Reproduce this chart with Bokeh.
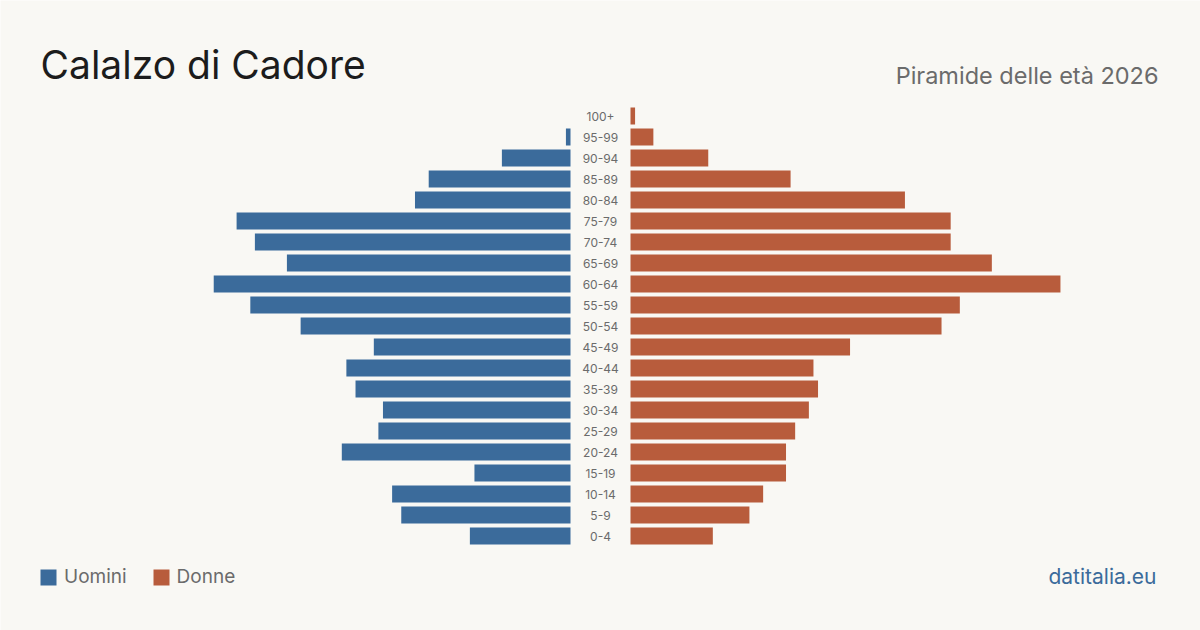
from bokeh.plotting import figure
from bokeh.models import Range1d, Label, ColumnDataSource, Legend, LegendItem
from bokeh.core.properties import value
from bokeh.embed import file_html
from bokeh.resources import INLINE

# ---- data (bottom to top) ----
ages = ["0-4", "5-9", "10-14", "15-19", "20-24", "25-29", "30-34", "35-39",
        "40-44", "45-49", "50-54", "55-59", "60-64", "65-69", "70-74", "75-79",
        "80-84", "85-89", "90-94", "95-99", "100+"]
men = [22, 37, 39, 21, 50, 42, 41, 47, 49, 43, 59, 70, 78, 62, 69, 73, 34, 31, 15, 1, 0]
women = [18, 26, 29, 34, 34, 36, 39, 41, 40, 48, 68, 72, 94, 79, 70, 70, 60, 35, 17, 5, 1]

title = "Calalzo di Cadore"
subtitle = "Piramide delle età 2026"
source_txt = "datitalia.eu"

# ---- layout constants ----
W, H = 1200, 630
S = 4.574          # px per person
PITCH = 21.0       # px per row
ROW0 = 535.5       # px from top of the bottom row centre
GAP = 30 / S       # half gap around labels (data units)
BG = "#f9f8f4"
BLUE = "#3b6b9b"
ORANGE = "#b85c3c"
FONT = "Inter"

def dx(px):
    return (px - W / 2) / S

def dy(ptop):
    return (ROW0 - ptop) / PITCH

p = figure(width=W, height=H, output_backend="svg", toolbar_location=None,
           x_range=Range1d(-W / 2 / S, W / 2 / S),
           y_range=Range1d(-(H - ROW0) / PITCH, ROW0 / PITCH),
           x_axis_type=None, y_axis_type=None, min_border=0,
           background_fill_color=BG, border_fill_color=BG, outline_line_color=None)
p.grid.visible = False

idx = list(range(len(ages)))
src = ColumnDataSource(dict(
    y=idx, age=ages,
    m_left=[-GAP - v for v in men], m_right=[-GAP] * len(men),
    w_left=[GAP] * len(women), w_right=[GAP + v for v in women],
    zero=[0] * len(ages),
))

h = 17 / PITCH
rm = p.hbar(y="y", left="m_left", right="m_right", height=h, source=src,
            fill_color=BLUE, line_color=None)
rw = p.hbar(y="y", left="w_left", right="w_right", height=h, source=src,
            fill_color=ORANGE, line_color=None)

p.text(x="zero", y="y", text="age", source=src, text_align="center",
       text_baseline="middle", text_font=value(FONT), text_font_size="12px",
       text_color="#6b6b6b")

p.add_layout(Label(x=dx(40), y=dy(64), text=title, text_font=FONT,
                   text_font_size="39px", text_color="#1c1c1c",
                   text_baseline="alphabetic"))
p.add_layout(Label(x=dx(1158), y=dy(75), text=subtitle, text_font=FONT,
                   text_font_size="23.5px", text_color="#6b6b6b",
                   text_align="right", text_baseline="alphabetic"))
p.add_layout(Label(x=dx(1156), y=dy(576), text=source_txt, text_font=FONT,
                   text_font_size="21px", text_color=BLUE,
                   text_align="right", text_baseline="alphabetic"))

legend = Legend(items=[LegendItem(label="Uomini", renderers=[rm]),
                       LegendItem(label="Donne", renderers=[rw])],
                orientation="horizontal", location=(38, 42),
                padding=0, margin=0, spacing=24, label_standoff=6,
                glyph_width=20, glyph_height=20, label_height=20,
                label_text_font=FONT, label_text_font_size="19px",
                label_text_color="#6b6b6b", label_text_baseline="middle",
                border_line_color=None, background_fill_alpha=0)
p.add_layout(legend)

open("out.html", "w").write(file_html(p, INLINE))
